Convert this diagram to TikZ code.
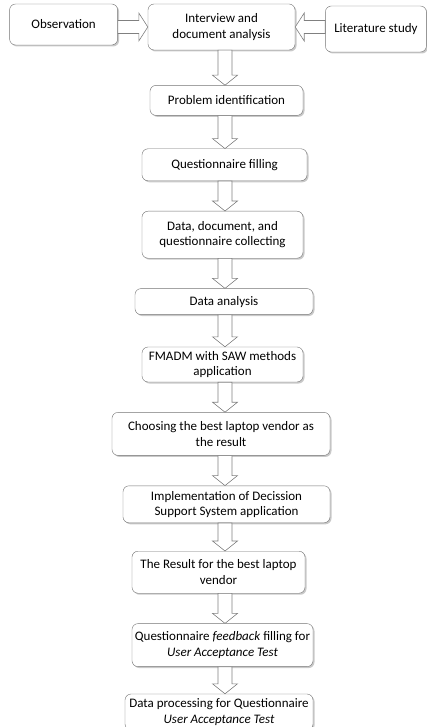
\documentclass[tikz,border=0pt]{standalone}
\usepackage{fontspec}
\setmainfont{Carlito}
\usetikzlibrary{positioning,calc,shadows}
\tikzset{
	stepbox/.style={rectangle, draw=black!55, rounded corners=6pt, fill=white,
		align=center, font=\fontsize{13}{15.5}\selectfont, inner sep=1pt,
		drop shadow={shadow xshift=1.5pt, shadow yshift=-1.5pt, fill=black!30, opacity=0.7}},
	blockarr/.style={draw=black!50, fill=white, line width=0.6pt, line join=miter}
}
% hollow block arrows between two named boxes
\newcommand{\flowdown}[2]{%
	\draw[blockarr] let \p0=(axis), \p1=(#1.south), \p2=(#2.north) in
		(\x0-7pt,\y1) -- (\x0-7pt,\y2+10pt) -- (\x0-12.5pt,\y2+10pt) -- (\x0,\y2)
		-- (\x0+12.5pt,\y2+10pt) -- (\x0+7pt,\y2+10pt) -- (\x0+7pt,\y1) -- cycle;}
\newcommand{\flowright}[2]{%
	\draw[blockarr] let \p1=(#1.east), \p2=(#2.west), \p3=(#2.center) in
		(\x1,\y3+6.5pt) -- (\x2-9pt,\y3+6.5pt) -- (\x2-9pt,\y3+14pt) -- (\x2,\y3)
		-- (\x2-9pt,\y3-14pt) -- (\x2-9pt,\y3-6.5pt) -- (\x1,\y3-6.5pt) -- cycle;}
\newcommand{\flowleft}[2]{%
	\draw[blockarr] let \p1=(#1.west), \p2=(#2.east), \p3=(#2.center) in
		(\x1,\y3+6.5pt) -- (\x2+9pt,\y3+6.5pt) -- (\x2+9pt,\y3+14pt) -- (\x2,\y3)
		-- (\x2+9pt,\y3-14pt) -- (\x2+9pt,\y3-6.5pt) -- (\x1,\y3-6.5pt) -- cycle;}

\begin{document}
\begin{tikzpicture}
	\useasboundingbox (0,0) rectangle (427pt,-727pt);
	\coordinate (axis) at (225pt,0);
	\node[stepbox, minimum width=147pt, minimum height=46pt] (interview) at (221.5pt,-27pt) {Interview and\\document analysis};
	\node[stepbox, minimum width=108pt, minimum height=41pt, left=30pt of interview, yshift=2.5pt] (observation) {Observation};
	\node[stepbox, minimum width=101pt, minimum height=46pt, right=30pt of interview, yshift=-2pt] (literature) {Literature study};
	\node[stepbox, minimum width=153pt, minimum height=30pt, below=35pt of interview, xshift=5pt] (problem) {Problem identification};
	\node[stepbox, minimum width=165pt, minimum height=32pt, below=33pt of problem, xshift=-2pt] (qfilling) {Questionnaire filling};
	\node[stepbox, minimum width=161pt, minimum height=47pt, below=30pt of qfilling, xshift=-2pt] (collecting) {Data, document, and\\questionnaire collecting};
	\node[stepbox, minimum width=178pt, minimum height=26pt, below=30pt of collecting, xshift=1.5pt] (analysis) {Data analysis};
	\node[stepbox, minimum width=161pt, minimum height=35pt, below=32pt of analysis, xshift=-1.5pt] (fmadm) {FMADM with SAW methods\\application};
	\node[stepbox, minimum width=218pt, minimum height=43pt, below=30pt of fmadm, xshift=-1.5pt] (choosing) {Choosing the best laptop vendor as\\the result};
	\node[stepbox, minimum width=207pt, minimum height=37pt, below=30pt of choosing, xshift=5.5pt] (implement) {Implementation of Decission\\Support System application};
	\node[stepbox, minimum width=173pt, minimum height=42pt, below=28pt of implement, xshift=-8pt] (result) {The Result for the best laptop\\vendor};
	\node[stepbox, minimum width=181pt, minimum height=43pt, below=30pt of result, xshift=4pt] (feedback) {Questionnaire \textit{feedback} filling for\\\textit{User Acceptance Test}};
	\node[stepbox, minimum width=188pt, minimum height=36pt, below=27pt of feedback, xshift=-3.5pt] (processing) {Data processing for Questionnaire\\\textit{User Acceptance Test}};
	\flowright{observation}{interview}
	\flowleft{literature}{interview}
	\flowdown{interview}{problem}
	\flowdown{problem}{qfilling}
	\flowdown{qfilling}{collecting}
	\flowdown{collecting}{analysis}
	\flowdown{analysis}{fmadm}
	\flowdown{fmadm}{choosing}
	\flowdown{choosing}{implement}
	\flowdown{implement}{result}
	\flowdown{result}{feedback}
	\flowdown{feedback}{processing}
\end{tikzpicture}
\end{document}
